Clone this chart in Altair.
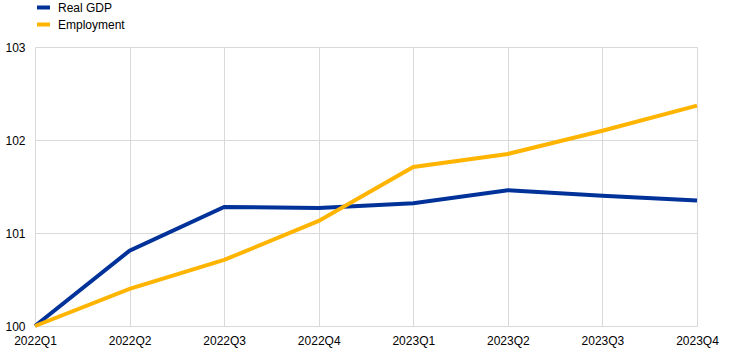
import altair as alt
import pandas as pd

quarters = ["2022Q1", "2022Q2", "2022Q3", "2022Q4", "2023Q1", "2023Q2", "2023Q3", "2023Q4"]
real_gdp = [100.0, 100.81, 101.28, 101.27, 101.32, 101.46, 101.40, 101.35]
employment = [100.0, 100.40, 100.71, 101.13, 101.71, 101.85, 102.10, 102.37]
series_names = ["Real GDP", "Employment"]
series_colors = ["#003299", "#ffb400"]

rows = []
for q, g, e in zip(quarters, real_gdp, employment):
    rows.append({"quarter": q, "series": series_names[0], "value": g})
    rows.append({"quarter": q, "series": series_names[1], "value": e})
df = pd.DataFrame(rows)

font = "Liberation Sans"

chart = alt.Chart(df).mark_line(strokeWidth=4).encode(
    x=alt.X("quarter:N", sort=quarters,
            scale=alt.Scale(type="point", padding=0),
            axis=alt.Axis(title=None, labelAngle=0, grid=True, domain=False, ticks=False,
                          labelPadding=9, labelFont=font, labelFontSize=12,
                          labelColor="#000000", gridColor="#d9d9d9")),
    y=alt.Y("value:Q", scale=alt.Scale(domain=[100, 103], nice=False, zero=False),
            axis=alt.Axis(title=None, values=[100, 101, 102, 103], domain=False, ticks=False,
                          labelPadding=10, labelFont=font, labelFontSize=12,
                          labelColor="#000000", gridColor="#d9d9d9")),
    color=alt.Color("series:N", sort=series_names,
                    scale=alt.Scale(domain=series_names, range=series_colors),
                    legend=alt.Legend(title=None, orient="none", legendX=0, legendY=-48,
                                      direction="vertical", symbolType="stroke",
                                      symbolStrokeWidth=4, symbolSize=169,
                                      labelFont=font, labelFontSize=12, labelColor="#000000",
                                      rowPadding=0, padding=0, labelOffset=6)),
    order=alt.Order("series:N"),
).properties(
    width=662, height=279,
    padding={"left": 35, "top": 47, "right": 45, "bottom": 26},
    autosize="none",
).configure_view(stroke=None).configure_axis(labelFlush=False)

chart.save("out.html", embed_options={"renderer": "svg", "actions": False})
